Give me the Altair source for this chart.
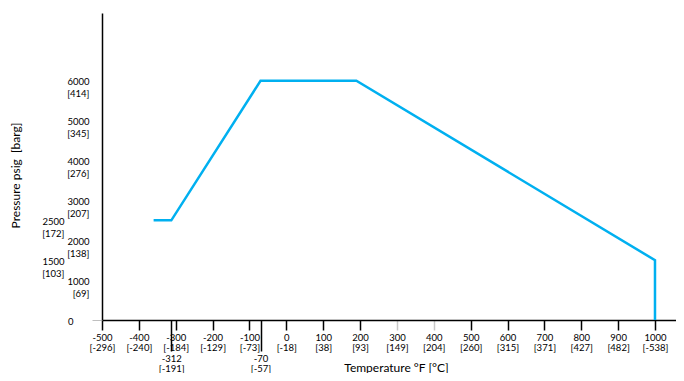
import altair as alt
import pandas as pd

# Pressure–temperature rating curve (°F, psig)
temp_f = [-360, -312, -70, 190, 1000, 1000]
pressure_psig = [2500, 2500, 6000, 6000, 1500, 0]

# Axis tick values and their secondary-unit labels
x_ticks_f = [-500, -400, -312, -300, -200, -100, -70, 0, 100, 200, 300, 400,
             500, 600, 700, 800, 900, 1000]
x_ticks_c = ["-296", "-240", "-191", "-184", "-129", "-73", "-57", "-18", "38",
             "93", "149", "204", "260", "315", "371", "427", "482", "-538"]
y_ticks_psig = [0, 1000, 1500, 2000, 2500, 3000, 4000, 5000, 6000]
y_ticks_barg = ["0", "69", "103", "138", "172", "207", "276", "345", "414"]

df = pd.DataFrame({"F": temp_f, "P": pressure_psig,
                   "order": list(range(len(temp_f)))})


def js_num(lst):
    return "[" + ",".join(str(v) for v in lst) + "]"


def js_str(lst):
    return "[" + ",".join("'" + v + "'" for v in lst) + "]"


x_label_expr = ("['' + datum.value, '[' + " + js_str(x_ticks_c) +
                "[indexof(" + js_num(x_ticks_f) + ", datum.value)] + ']']")
y_label_expr = ("datum.value === 0 ? '0' : ['' + datum.value, '[' + " +
                js_str(y_ticks_barg) + "[indexof(" + js_num(y_ticks_psig) +
                ", datum.value)] + ']']")

FONT = "Lato"
long_test = "datum.value === -312 || datum.value === -70"

x_axis = alt.Axis(
    values=x_ticks_f,
    labelExpr=x_label_expr,
    title="Temperature °F [°C]",
    grid=False,
    domainColor="black",
    domainWidth=1.5,
    tickColor={"condition": {"test": "datum.value === 300 || datum.value === 400",
                             "value": "#c8c8c8"}, "value": "black"},
    tickWidth=1.5,
    tickSize={"condition": {"test": long_test, "value": 31}, "value": 10},
    labelPadding=2,
    labelFont=FONT,
    labelFontSize=9.5,
    labelColor="black",
    labelBaseline="top",
    labelAlign="center",
    labelLineHeight=10.5,
    labelFlush=False,
    labelOverlap=False,
    labelBound=False,
    titleFont=FONT,
    titleFontSize=12,
    titleFontWeight="normal",
    titleColor="black",
    titleX=294,
    titleY=47,
    titleAlign="center",
    titleBaseline="middle",
)

y_axis = alt.Axis(
    values=y_ticks_psig,
    labelExpr=y_label_expr,
    title="Pressure psig\u00a0 [barg]",
    grid=False,
    domainColor="black",
    domainWidth=1.5,
    tickColor={"condition": {"test": "datum.value === 0", "value": "#bfbfbf"},
               "value": "transparent"},
    tickWidth=1,
    tickSize=10,
    labelPadding={"condition": [
        {"test": "datum.value === 2500 || datum.value === 1500", "value": 28},
        {"test": "datum.value === 0", "value": 19}], "value": 3},
    labelFont=FONT,
    labelFontSize=9.5,
    labelColor="black",
    labelAlign="right",
    labelBaseline="top",
    labelOffset=-4,
    labelLineHeight=12,
    labelFlush=False,
    labelOverlap=False,
    labelBound=False,
    titleFont=FONT,
    titleFontSize=12,
    titleFontWeight="normal",
    titleColor="black",
    titleX=-87,
    titleY=162,
    titleAngle=270,
    titleAlign="center",
    titleBaseline="middle",
)

chart = alt.Chart(df).mark_line(color="#00B0F0", strokeWidth=2.5).encode(
    x=alt.X("F:Q", scale=alt.Scale(domain=[-500, 1057], nice=False, zero=False),
            axis=x_axis),
    y=alt.Y("P:Q", scale=alt.Scale(domain=[0, 7700], nice=False, zero=False),
            axis=y_axis),
    order="order:O",
).properties(
    width=574,
    height=307,
    autosize=alt.AutoSizeParams(type="none"),
    padding={"left": 94, "top": 5, "right": 0, "bottom": 53},
    background="white",
).configure_view(stroke=None)

chart.save("out.html", embed_options={"renderer": "svg", "actions": False})
